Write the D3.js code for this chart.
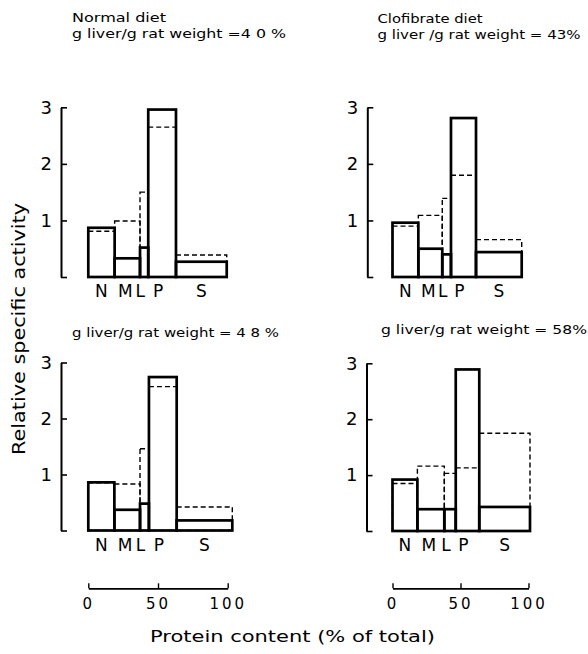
<!DOCTYPE html>
<html>
<head>
<meta charset="utf-8">
<script src="https://cdn.jsdelivr.net/npm/d3@7"></script>
<style>
  body { margin: 0; background: #fff; }
  text { font-family: "DejaVu Sans", "Liberation Sans", sans-serif; fill: #000; }
</style>
</head>
<body>
<div id="chart"></div>
<script>
// fractions (N nuclear, M mitochondrial, L lysosomal, P microsomal, S soluble)
var fractions = ["N", "M", "L", "P", "S"];

// protein content of each fraction (% of total), one list per panel
var proteinNormal = [18.9, 18.2, 5.9, 19.9, 36.4];
var proteinClofibrate43 = [19.0, 17.6, 6.4, 18.4, 33.6];
var proteinClofibrate48 = [18.7, 18.4, 6.4, 19.9, 39.9];
var proteinClofibrate58 = [18.3, 19.8, 8.4, 17.3, 37.3];

// relative specific activity, solid histogram
var solidNormal = [0.87, 0.33, 0.52, 2.96, 0.27];
var solidClofibrate43 = [0.96, 0.50, 0.40, 2.81, 0.44];
var solidClofibrate48 = [0.86, 0.37, 0.48, 2.74, 0.18];
var solidClofibrate58 = [0.92, 0.39, 0.39, 2.89, 0.43];

// relative specific activity, dashed histogram
var dashedNormal = [0.81, 0.99, 1.50, 2.65, 0.39];
var dashedClofibrate43 = [0.90, 1.09, 1.39, 1.80, 0.66];
var dashedClofibrate48 = [0.85, 0.83, 1.46, 2.57, 0.42];
var dashedClofibrate58 = [0.85, 1.16, 1.03, 1.13, 1.75];

var titles = [
  ["Normal diet", "g liver/g rat weight =4 0 %"],
  ["Clofibrate diet", "g liver /g rat weight = 43%"],
  ["g liver/g rat weight = 4 8 %"],
  ["g  liver/g rat weight = 58%"]
];

var yTicks = [0, 1, 2, 3];
var xTicks = [0, 50, 100];

// the M, L, P letters sit a little closer together than the bar centres
var labelShift = [0, -2, -4, -4, 0];

// layout of the four panels
var panels = [
  { protein: proteinNormal, solid: solidNormal, dashed: dashedNormal, title: titles[0],
    x0: 88.3, x1: 227.7, y0: 277, y1: 107.3, axisX: 61, titleX: 72, titleY: 22, titleW: [94, 214], xAxis: false },
  { protein: proteinClofibrate43, solid: solidClofibrate43, dashed: dashedClofibrate43, title: titles[1],
    x0: 392.5, x1: 528.5, y0: 277, y1: 107.3, axisX: 367.3, titleX: 377.5, titleY: 23, titleW: [105, 203], xAxis: false },
  { protein: proteinClofibrate48, solid: solidClofibrate48, dashed: dashedClofibrate48, title: titles[2],
    x0: 88.3, x1: 227.7, y0: 530.5, y1: 362.5, axisX: 61, titleX: 72, titleY: 337, titleW: [207], xAxis: true },
  { protein: proteinClofibrate58, solid: solidClofibrate58, dashed: dashedClofibrate58, title: titles[3],
    x0: 392.5, x1: 528.5, y0: 531, y1: 363.3, axisX: 366.5, titleX: 381, titleY: 333.5, titleW: [206], xAxis: true }
];

var width = 588, height = 654;

var svg = d3.select("#chart")
  .append("svg")
  .attr("width", width)
  .attr("height", height);

panels.forEach(function (p) {
  var x = d3.scaleLinear().domain([0, 100]).range([p.x0, p.x1]);
  var y = d3.scaleLinear().domain([0, 3]).range([p.y0, p.y1]);

  // cumulative protein gives the bar edges
  var bars = [];
  var acc = 0;
  fractions.forEach(function (f, i) {
    bars.push({ name: f, start: acc, end: acc + p.protein[i], solid: p.solid[i], dashed: p.dashed[i], shift: labelShift[i] });
    acc += p.protein[i];
  });

  var g = svg.append("g");

  // titles
  p.title.forEach(function (line, i) {
    g.append("text")
      .attr("x", p.titleX)
      .attr("y", p.titleY + i * 16)
      .attr("textLength", p.titleW[i])
      .attr("lengthAdjust", "spacingAndGlyphs")
      .style("font-size", "12px")
      .text(line);
  });

  // dashed histogram first, solid on top
  g.selectAll(".dash")
    .data(bars)
    .enter()
    .append("rect")
    .attr("x", function (d) { return x(d.start); })
    .attr("y", function (d) { return y(d.dashed); })
    .attr("width", function (d) { return x(d.end) - x(d.start); })
    .attr("height", function (d) { return y(0) - y(d.dashed); })
    .style("fill", "none")
    .style("stroke", "#000")
    .style("stroke-width", 1.4)
    .style("stroke-dasharray", "5,3");

  g.selectAll(".solid")
    .data(bars)
    .enter()
    .append("rect")
    .attr("x", function (d) { return x(d.start); })
    .attr("y", function (d) { return y(d.solid); })
    .attr("width", function (d) { return x(d.end) - x(d.start); })
    .attr("height", function (d) { return y(0) - y(d.solid); })
    .style("fill", "none")
    .style("stroke", "#000")
    .style("stroke-width", 2.7);

  // fraction labels under the bars
  g.selectAll(".lab")
    .data(bars)
    .enter()
    .append("text")
    .attr("x", function (d) { return (x(d.start) + x(d.end)) / 2 + d.shift; })
    .attr("y", p.y0 + 20)
    .attr("text-anchor", "middle")
    .style("font-size", "17px")
    .text(function (d) { return d.name; });

  // y axis: bracket with ticks pointing inward
  var yAxis = g.append("g")
    .attr("transform", "translate(" + p.axisX + ",0)")
    .call(d3.axisLeft(y)
      .tickValues(yTicks)
      .tickSizeInner(-6)
      .tickSizeOuter(0)
      .tickPadding(9)
      .tickFormat(function (d) { return d === 0 ? "" : d; }));
  yAxis.select(".domain").style("stroke-width", 2);
  yAxis.selectAll(".tick line").style("stroke-width", 1.6);
  yAxis.selectAll("text").style("font-size", "18px").style("font-family", "DejaVu Sans, sans-serif");

  // protein scale under the bottom row
  if (p.xAxis) {
    var xAxis = g.append("g")
      .attr("transform", "translate(0,588.3)")
      .call(d3.axisBottom(x)
        .tickValues(xTicks)
        .tickSizeInner(-5)
        .tickSizeOuter(0)
        .tickPadding(10));
    xAxis.select(".domain").style("stroke-width", 1.8);
    xAxis.selectAll(".tick line").style("stroke-width", 1.4);
    xAxis.selectAll("text")
      .style("font-size", "15px")
      .style("letter-spacing", "3px")
      .style("font-family", "DejaVu Sans, sans-serif");
  }
});

// shared axis titles
svg.append("text")
  .attr("transform", "translate(25,329)rotate(-90)")
  .attr("text-anchor", "middle")
  .attr("textLength", 252)
  .attr("lengthAdjust", "spacingAndGlyphs")
  .style("font-size", "17px")
  .text("Relative specific activity");

svg.append("text")
  .attr("x", 150)
  .attr("y", 642)
  .attr("textLength", 285)
  .attr("lengthAdjust", "spacingAndGlyphs")
  .style("font-size", "16px")
  .text("Protein content (% of total)");
</script>
</body>
</html>
